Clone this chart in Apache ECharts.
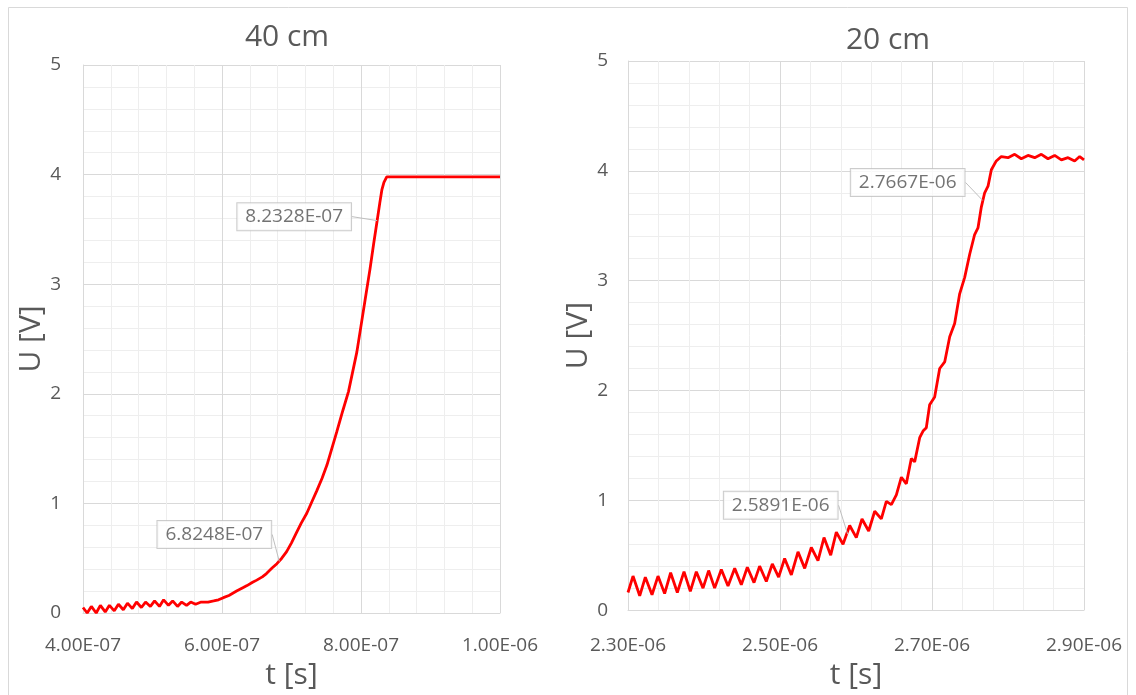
<!DOCTYPE html>
<html><head><meta charset="utf-8">
<script src="https://cdn.jsdelivr.net/npm/echarts@6/dist/echarts.min.js"></script>
<style>html,body{margin:0;padding:0;background:#fff}#c{width:1136px;height:695px}</style>
</head><body><div id="c"></div>
<script>
// ---------- DATA ----------
const chartTitles = ['40 cm', '20 cm'];
const xAxisTitle = 't [s]';
const yAxisTitle = 'U [V]';

// Left chart (40 cm): time [s], voltage [V]
const tLeft = [4.00e-7, 4.06e-7, 4.12e-7, 4.19e-7, 4.25e-7, 4.32e-7, 4.38e-7, 4.45e-7, 4.51e-7, 4.58e-7,
  4.64e-7, 4.71e-7, 4.77e-7, 4.84e-7, 4.90e-7, 4.97e-7, 5.03e-7, 5.10e-7, 5.16e-7, 5.23e-7,
  5.29e-7, 5.36e-7, 5.42e-7, 5.49e-7, 5.55e-7, 5.62e-7,
  5.70e-7, 5.80e-7, 5.88e-7, 5.95e-7, 6.02e-7, 6.10e-7, 6.21e-7, 6.30e-7, 6.36e-7, 6.44e-7,
  6.50e-7, 6.58e-7, 6.64e-7, 6.72e-7, 6.79e-7, 6.86e-7, 6.93e-7, 7.00e-7, 7.07e-7, 7.14e-7,
  7.22e-7, 7.29e-7, 7.36e-7, 7.44e-7, 7.51e-7, 7.58e-7, 7.65e-7, 7.74e-7, 7.82e-7, 7.88e-7,
  7.94e-7, 8.00e-7, 8.06e-7, 8.13e-7, 8.18e-7, 8.23e-7, 8.27e-7, 8.30e-7, 8.33e-7, 8.37e-7,
  8.50e-7, 9.00e-7, 10.00e-7];
const uLeft = [0.05, 0.00, 0.06, 0.00, 0.07, 0.01, 0.07, 0.02, 0.08, 0.03,
  0.09, 0.04, 0.10, 0.05, 0.10, 0.06, 0.11, 0.06, 0.12, 0.07,
  0.11, 0.06, 0.10, 0.07, 0.10, 0.08,
  0.10, 0.10, 0.11, 0.12, 0.14, 0.16, 0.20, 0.23, 0.25, 0.28,
  0.30, 0.33, 0.36, 0.41, 0.45, 0.50, 0.56, 0.64, 0.73, 0.82,
  0.91, 1.01, 1.11, 1.23, 1.35, 1.50, 1.65, 1.85, 2.02, 2.20,
  2.38, 2.62, 2.86, 3.14, 3.36, 3.57, 3.74, 3.86, 3.93, 3.98,
  3.98, 3.98, 3.98];

// Right chart (20 cm)
const tRight = [2.3000e-6, 2.3066e-6, 2.3154e-6, 2.3228e-6, 2.3316e-6, 2.3395e-6, 2.3482e-6, 2.3561e-6, 2.3649e-6, 2.3737e-6,
  2.3820e-6, 2.3899e-6, 2.3987e-6, 2.4061e-6, 2.4140e-6, 2.4228e-6, 2.4316e-6, 2.4404e-6, 2.4491e-6, 2.4570e-6,
  2.4658e-6, 2.4732e-6, 2.4820e-6, 2.4899e-6, 2.4982e-6, 2.5061e-6, 2.5149e-6, 2.5237e-6, 2.5325e-6, 2.5412e-6,
  2.5500e-6, 2.5579e-6, 2.5667e-6, 2.5741e-6, 2.5829e-6, 2.5917e-6, 2.6004e-6, 2.6079e-6, 2.6167e-6, 2.6246e-6,
  2.6333e-6, 2.6399e-6, 2.6465e-6, 2.6531e-6, 2.6597e-6, 2.6662e-6, 2.6728e-6, 2.6772e-6, 2.6838e-6, 2.6882e-6,
  2.6925e-6, 2.6969e-6, 2.7035e-6, 2.7101e-6, 2.7167e-6, 2.7233e-6, 2.7298e-6, 2.7364e-6, 2.7430e-6, 2.7496e-6,
  2.7561e-6, 2.7605e-6, 2.7649e-6, 2.7693e-6, 2.7737e-6, 2.7781e-6, 2.7846e-6, 2.7912e-6, 2.8000e-6, 2.8088e-6,
  2.8175e-6, 2.8263e-6, 2.8351e-6, 2.8439e-6, 2.8526e-6, 2.8614e-6, 2.8702e-6, 2.8790e-6, 2.8877e-6, 2.8943e-6,
  2.9000e-6];
const uRight = [0.16, 0.31, 0.13, 0.30, 0.14, 0.31, 0.15, 0.34, 0.16, 0.35,
  0.17, 0.35, 0.20, 0.36, 0.20, 0.37, 0.22, 0.38, 0.23, 0.39,
  0.25, 0.40, 0.26, 0.42, 0.30, 0.47, 0.32, 0.53, 0.38, 0.57,
  0.45, 0.66, 0.50, 0.71, 0.60, 0.77, 0.66, 0.83, 0.72, 0.90,
  0.83, 0.99, 0.96, 1.05, 1.21, 1.15, 1.38, 1.35, 1.57, 1.63,
  1.66, 1.87, 1.94, 2.20, 2.26, 2.49, 2.61, 2.88, 3.03, 3.24,
  3.42, 3.48, 3.67, 3.80, 3.86, 4.01, 4.09, 4.13, 4.12, 4.15,
  4.11, 4.14, 4.12, 4.15, 4.11, 4.14, 4.10, 4.12, 4.09, 4.13,
  4.10];

// Annotated points
const annoLeftT = [6.8248e-7, 8.2328e-7];
const annoLeftU = [0.47, 3.58];
const annoRightT = [2.5891e-6, 2.7667e-6];
const annoRightU = [0.69, 3.73];

// Axis ranges / ticks
const xLeftRange = [4e-7, 1e-6], xLeftStep = 2e-7;
const xRightRange = [2.3e-6, 2.9e-6], xRightStep = 2e-7;
const yRange = [0, 5], yStep = 1;

// ---------- STYLE ----------
const FONT = '"Open Sans", "Noto Sans", sans-serif';
const TXT = '#595959';
const GRID = '#d9d9d9';
const MINOR = '#eeeeee';
const RED = '#ff0000';
const leftOffsets = [[-65, -27], [-83, -4]];
const rightOffsets = [[-67, -29], [-75, -18]];

function sci(v, d) {
  const s = Number(v).toExponential(d).toUpperCase();
  return s.replace(/E([+-])(\d)$/, 'E$10$2');
}
const zip = (a, b) => a.map((v, i) => [v, b[i]]);

function xAxisCfg(idx, range, step, gap, margin) {
  return {
    type: 'value', gridIndex: idx, min: range[0], max: range[1], interval: step,
    name: xAxisTitle, nameLocation: 'middle', nameGap: gap,
    nameTextStyle: { fontFamily: FONT, fontSize: 30, color: TXT },
    axisLine: { show: true, lineStyle: { color: GRID, width: 1 } },
    axisTick: { show: false },
    axisLabel: { fontFamily: FONT, fontSize: 19, color: TXT, margin: margin, formatter: v => sci(v, 2) },
    splitLine: { show: true, lineStyle: { color: GRID, width: 1 } },
    minorTick: { show: false, splitNumber: 5 },
    minorSplitLine: { show: true, lineStyle: { color: MINOR, width: 1 } }
  };
}
function yAxisCfg(idx, gap, margin) {
  return {
    type: 'value', gridIndex: idx, min: yRange[0], max: yRange[1], interval: yStep,
    name: yAxisTitle, nameLocation: 'middle', nameGap: gap,
    nameTextStyle: { fontFamily: FONT, fontSize: 30, color: TXT },
    axisLine: { show: true, lineStyle: { color: GRID, width: 1 } },
    axisTick: { show: false },
    axisLabel: { fontFamily: FONT, fontSize: 19, color: TXT, margin: margin },
    splitLine: { show: true, lineStyle: { color: GRID, width: 1 } },
    minorTick: { show: false, splitNumber: 5 },
    minorSplitLine: { show: true, lineStyle: { color: MINOR, width: 1 } }
  };
}
function curve(idx, t, u) {
  return {
    type: 'line', xAxisIndex: idx, yAxisIndex: idx, data: zip(t, u),
    showSymbol: false, symbol: 'none', smooth: false,
    lineStyle: { color: RED, width: 2.8 }, silent: true, z: 3
  };
}
function callouts(idx, t, u, offsets) {
  return {
    type: 'scatter', xAxisIndex: idx, yAxisIndex: idx, data: zip(t, u),
    symbolSize: 0.1, itemStyle: { color: 'rgba(0,0,0,0)' }, z: 5, silent: true,
    label: {
      show: true, position: 'inside', formatter: p => sci(p.value[0], 4),
      fontFamily: FONT, fontSize: 19, color: '#505050',
      backgroundColor: '#ffffff', borderColor: '#bfbfbf', borderWidth: 1,
      padding: [4, 8]
    },
    labelLine: { show: true, length2: 0, lineStyle: { color: '#bfbfbf', width: 1 } },
    labelLayout: p => ({ dx: offsets[p.dataIndex][0], dy: offsets[p.dataIndex][1] })
  };
}

const chart = echarts.init(document.getElementById('c'), null, { renderer: 'canvas' });
chart.setOption({
  backgroundColor: '#ffffff',
  animation: false,
  title: [
    { text: chartTitles[0], left: 282, top: 17, textAlign: 'center',
      textStyle: { fontFamily: FONT, fontSize: 30, fontWeight: 'normal', color: TXT } },
    { text: chartTitles[1], left: 883, top: 20, textAlign: 'center',
      textStyle: { fontFamily: FONT, fontSize: 30, fontWeight: 'normal', color: TXT } }
  ],
  graphic: [{ type: 'rect', shape: { x: 8.5, y: 7.5, width: 1119, height: 700 },
    style: { fill: 'none', stroke: '#d9d9d9', lineWidth: 1 }, silent: true, z: -10 }],
  grid: [
    { left: 83, top: 65, right: 636, bottom: 79 },
    { left: 628, top: 61, right: 52, bottom: 72 }
  ],
  xAxis: [xAxisCfg(0, xLeftRange, xLeftStep, 47, 23), xAxisCfg(1, xRightRange, xRightStep, 41, 26)],
  yAxis: [yAxisCfg(0, 33, 22), yAxisCfg(1, 15, 20)],
  series: [
    curve(0, tLeft, uLeft),
    curve(1, tRight, uRight),
    callouts(0, annoLeftT, annoLeftU, leftOffsets),
    callouts(1, annoRightT, annoRightU, rightOffsets)
  ]
});
</script>
</body></html>
